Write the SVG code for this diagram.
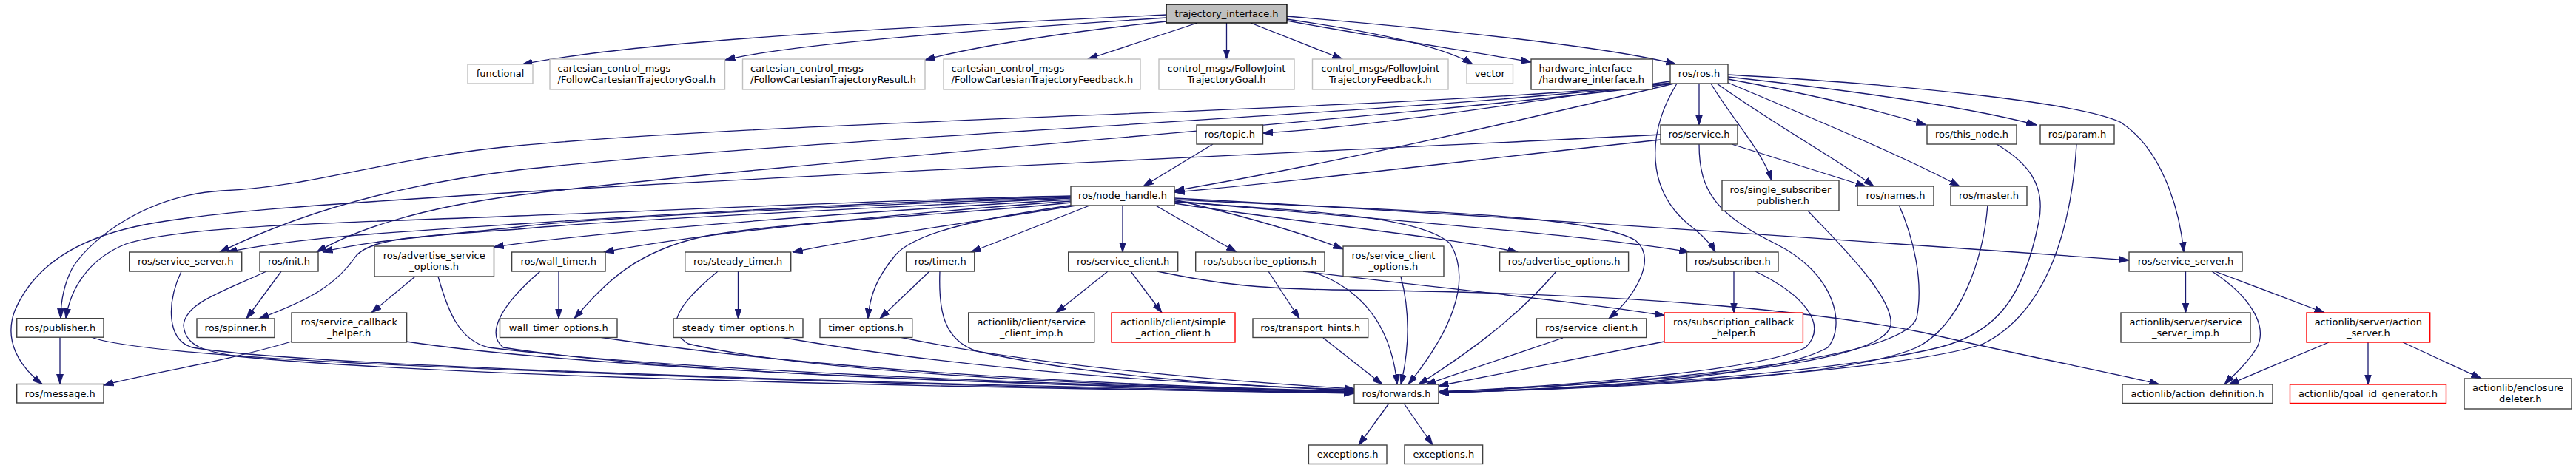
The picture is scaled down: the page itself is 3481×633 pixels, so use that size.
<svg xmlns="http://www.w3.org/2000/svg" width="3481" height="633" viewBox="0 0 3481 633">
<style>
.nd rect{fill:#ffffff;stroke:#404040;stroke-width:1.4}
.nd.g rect{stroke:#bfbfbf}
.nd.r rect{stroke:#ff0000}
.nd.root rect{fill:#bfbfbf;stroke:#000000}
.nd text{font-family:"DejaVu Sans","Liberation Sans",sans-serif;font-size:13px;fill:#000000;text-anchor:middle}
.nd text.l{text-anchor:start}
#edges path{fill:none;stroke:#191970;stroke-width:1.3;marker-end:url(#a)}
</style>
<defs>
<marker id="a" markerUnits="userSpaceOnUse" markerWidth="14" markerHeight="10" viewBox="0 0 14 10" refX="13.5" refY="5" orient="auto">
<path d="M0,0.6 L13.5,5 L0,9.4 z" fill="#191970" stroke="#191970" stroke-width="1"/>
</marker>
</defs>
<rect x="0" y="0" width="3481" height="633" fill="#ffffff"/>
<g id="edges">
<path d="M1576,20 C1300,33 880,52 706,87"/>
<path d="M1576,24 C1330,40 1080,58 980,81"/>
<path d="M1576,29 C1450,42 1320,62 1250,81"/>
<path d="M1618,31 L1470,80"/>
<path d="M1657.5,31 L1657.5,80"/>
<path d="M1690,31 L1814,80"/>
<path d="M1739,26 C1850,42 1950,62 1990,87"/>
<path d="M1739,28 C1870,52 1990,70 2069,84"/>
<path d="M1739,22 C1950,40 2170,62 2265,87"/>
<path d="M2260,112 C1900,150 1100,160 700,197 C520,214 430,252 300,258 C200,264 125,320 98,362 C86,385 82,410 82,430.7"/>
<path d="M2260,112 C1900,155 1100,185 700,230 C520,252 390,295 297,341"/>
<path d="M2261,113 C1900,160 1100,215 700,264 C570,281 480,310 428,341"/>
<path d="M2257,110 C2050,140 1850,172 1706.5,180"/>
<path d="M2262,113 C2050,165 1780,225 1587,258"/>
<path d="M2296,113 L2296,169"/>
<path d="M2312,113 C2340,160 2382,205 2394,244"/>
<path d="M2320,113 C2400,170 2490,220 2532,252"/>
<path d="M2333,111 C2450,160 2580,215 2648,252"/>
<path d="M2335,107 C2450,128 2540,150 2603,169"/>
<path d="M2335,104 C2500,122 2660,145 2752,169"/>
<path d="M2335,101 C2600,116 2810,140 2865,165 C2920,200 2945,280 2951,341"/>
<path d="M2266,113 C2225,180 2222,260 2290,310 C2302,320 2312,330 2318,341"/>
<path d="M2244,189 C2000,215 1760,245 1587,260"/>
<path d="M2244,182 C1900,200 1100,235 650,263 C450,276 300,285 200,303 C120,318 50,350 20,420 C5,460 25,495 57,519.5"/>
<path d="M2340,195 L2521,252"/>
<path d="M2296,195 C2296,260 2320,290 2400,330 C2480,370 2495,440 2470,470 C2400,510 2150,525 1944,531"/>
<path d="M1639,195 L1545,252"/>
<path d="M2443,285 C2475,320 2560,400 2555,440 C2545,490 2300,515 1944,530"/>
<path d="M2566,277 C2585,320 2600,380 2590,430 C2570,490 2200,520 1944,530"/>
<path d="M2686,277 C2680,350 2650,440 2590,470 C2500,510 2200,525 1944,531"/>
<path d="M2698,195 C2740,220 2765,250 2755,300 C2735,400 2700,450 2620,470 C2500,500 2200,525 1944,531"/>
<path d="M2806,195 C2800,300 2770,420 2680,465 C2580,500 2200,525 1944,531"/>
<path d="M1447,265 C1200,270 900,285 700,292 C450,302 250,305 170,330 C120,350 95,390 89,430.7"/>
<path d="M1447,266 C1200,272 900,290 700,303 C500,316 400,322 307,341"/>
<path d="M1447,267 C1100,280 800,295 700,307 C580,320 500,325 436,341"/>
<path d="M1447,268 C1100,285 800,300 700,310 C560,320 505,322 482,345 C455,385 420,405 350,431"/>
<path d="M1447,270 C1100,290 800,315 667,334"/>
<path d="M1447,272 C1200,290 950,315 816,341"/>
<path d="M1447,274 C1300,290 1050,300 950,320 C860,340 820,380 776,431"/>
<path d="M1460,277 C1350,295 1200,315 1071,341"/>
<path d="M1475,277 L1312,341"/>
<path d="M1452,277 C1350,292 1240,310 1210,345 C1185,375 1175,400 1173,431"/>
<path d="M1517,277 L1517,341"/>
<path d="M1560,277 L1671,341"/>
<path d="M1587,270 C1680,292 1760,315 1815,337"/>
<path d="M1587,273 C1750,285 1920,290 1960,330 C1990,380 1960,450 1903,520"/>
<path d="M1587,275 C1750,300 1950,320 2051,341"/>
<path d="M1587,272 C1900,300 2150,318 2283,341"/>
<path d="M1587,270 C1900,285 2150,290 2210,325 C2240,350 2210,400 2174,431"/>
<path d="M1587,268 C2000,290 2500,325 2877,352"/>
<path d="M245,367 C225,410 225,460 260,470 C400,495 1200,520 1830,531"/>
<path d="M380,367 L333,431"/>
<path d="M360,367 C300,395 250,410 248,440 C250,470 280,475 320,482 C600,510 1300,525 1830,531"/>
<path d="M561,374 L502,423"/>
<path d="M592,374 C605,420 620,460 660,470 C900,500 1400,520 1830,530"/>
<path d="M755,367 L755,431"/>
<path d="M730,367 C680,410 655,450 680,470 C900,505 1400,522 1830,530"/>
<path d="M394,462 C300,490 200,505 140,521"/>
<path d="M549,462 C800,500 1400,522 1830,530"/>
<path d="M81,456 L81,519.5"/>
<path d="M123,456 C160,470 300,482 500,492 C1000,515 1500,527 1830,532"/>
<path d="M810,456 C1100,500 1500,522 1830,529"/>
<path d="M997.5,367 L997.5,431"/>
<path d="M970,367 C930,400 890,440 930,465 C1100,505 1500,522 1830,530"/>
<path d="M1256,367 L1189,431"/>
<path d="M1270,367 C1268,420 1275,460 1320,475 C1450,505 1650,522 1830,528"/>
<path d="M1055,456 C1300,500 1600,520 1830,527"/>
<path d="M1216,456 C1400,495 1650,515 1830,526"/>
<path d="M1497,367 L1427,423"/>
<path d="M1528,367 L1570,423"/>
<path d="M1564,367 C1650,385 1700,390 1800,392 C2100,395 2400,410 2600,450 C2750,485 2860,505 2918,520"/>
<path d="M1714,367 L1756,431"/>
<path d="M1761,367 C1950,390 2150,410 2250,427"/>
<path d="M1772,367 C1840,390 1880,440 1888,520"/>
<path d="M1893,374 C1905,420 1905,470 1893,520"/>
<path d="M2103,367 C2050,430 1980,480 1917,520"/>
<path d="M1788,457 L1868,520"/>
<path d="M2112,457 L1927,520"/>
<path d="M2249,462 L1944,522"/>
<path d="M2343,367 L2343,423"/>
<path d="M2372,367 C2440,400 2470,440 2440,470 C2380,500 2150,520 1944,530"/>
<path d="M1877,545.5 L1836,602"/>
<path d="M1897,545.5 L1936,602"/>
<path d="M2953.5,367 L2953.5,423"/>
<path d="M2989,367 C3040,400 3065,440 3050,470 C3035,495 3015,510 3006,520"/>
<path d="M2993,367 L3141,423"/>
<path d="M3147,463 L3012,520"/>
<path d="M3200,463 L3200,520"/>
<path d="M3247,463 L3353,512"/>
</g>
<g id="n_traj" class="nd root"><rect x="1576" y="6" width="163" height="25"/><text x="1657.5" y="22.8">trajectory_interface.h</text></g>
<g id="n_functional" class="nd g"><rect x="632" y="87" width="88" height="26"/><text x="676" y="104.3">functional</text></g>
<g id="n_cart_goal" class="nd g"><rect x="743" y="80" width="236.5" height="41"/><text class="l" x="753.5" y="97">cartesian_control_msgs</text><text class="l" x="753.5" y="112">/FollowCartesianTrajectoryGoal.h</text></g>
<g id="n_cart_result" class="nd g"><rect x="1003.5" y="80" width="246.5" height="41"/><text class="l" x="1014" y="97">cartesian_control_msgs</text><text class="l" x="1014" y="112">/FollowCartesianTrajectoryResult.h</text></g>
<g id="n_cart_feedback" class="nd g"><rect x="1275" y="80" width="266" height="41"/><text class="l" x="1285.5" y="97">cartesian_control_msgs</text><text class="l" x="1285.5" y="112">/FollowCartesianTrajectoryFeedback.h</text></g>
<g id="n_cm_goal" class="nd g"><rect x="1566" y="80" width="183" height="41"/><text x="1657.5" y="97">control_msgs/FollowJoint</text><text x="1657.5" y="112">TrajectoryGoal.h</text></g>
<g id="n_cm_feedback" class="nd g"><rect x="1773.5" y="80" width="183.5" height="41"/><text x="1865.25" y="97">control_msgs/FollowJoint</text><text x="1865.25" y="112">TrajectoryFeedback.h</text></g>
<g id="n_vector" class="nd g"><rect x="1982" y="87" width="62.5" height="26"/><text x="2013.25" y="104.3">vector</text></g>
<g id="n_hw" class="nd"><rect x="2069" y="80" width="164" height="41"/><text class="l" x="2079.5" y="97">hardware_interface</text><text class="l" x="2079.5" y="112">/hardware_interface.h</text></g>
<g id="n_ros" class="nd"><rect x="2257" y="87" width="78" height="26"/><text x="2296" y="104.3">ros/ros.h</text></g>
<g id="n_topic" class="nd"><rect x="1617" y="169" width="89.5" height="26"/><text x="1661.75" y="186.3">ros/topic.h</text></g>
<g id="n_service" class="nd"><rect x="2244" y="169" width="104" height="26"/><text x="2296" y="186.3">ros/service.h</text></g>
<g id="n_this_node" class="nd"><rect x="2604" y="169" width="121" height="26"/><text x="2664.5" y="186.3">ros/this_node.h</text></g>
<g id="n_param" class="nd"><rect x="2757" y="169" width="100" height="26"/><text x="2807" y="186.3">ros/param.h</text></g>
<g id="n_node_handle" class="nd"><rect x="1447" y="252" width="140" height="26"/><text x="1517" y="269.3">ros/node_handle.h</text></g>
<g id="n_ssp" class="nd"><rect x="2327" y="244" width="158" height="41"/><text x="2406" y="261">ros/single_subscriber</text><text x="2406" y="276">_publisher.h</text></g>
<g id="n_names" class="nd"><rect x="2510" y="252" width="103" height="26"/><text x="2561.5" y="269.3">ros/names.h</text></g>
<g id="n_master" class="nd"><rect x="2636" y="252" width="103" height="26"/><text x="2687.5" y="269.3">ros/master.h</text></g>
<g id="n_ss_l" class="nd"><rect x="174.7" y="341" width="152" height="26"/><text x="250.7" y="358.3">ros/service_server.h</text></g>
<g id="n_init" class="nd"><rect x="351" y="341" width="79" height="26"/><text x="390.5" y="358.3">ros/init.h</text></g>
<g id="n_aso" class="nd"><rect x="506" y="333" width="161.5" height="41"/><text x="586.75" y="350">ros/advertise_service</text><text x="586.75" y="365">_options.h</text></g>
<g id="n_wall_timer" class="nd"><rect x="691.6" y="341" width="126.4" height="26"/><text x="754.8" y="358.3">ros/wall_timer.h</text></g>
<g id="n_steady_timer" class="nd"><rect x="925.7" y="341" width="143" height="26"/><text x="997.2" y="358.3">ros/steady_timer.h</text></g>
<g id="n_timer" class="nd"><rect x="1224.6" y="341" width="92.2" height="26"/><text x="1270.7" y="358.3">ros/timer.h</text></g>
<g id="n_sc_u" class="nd"><rect x="1443.7" y="341" width="148" height="26"/><text x="1517.7" y="358.3">ros/service_client.h</text></g>
<g id="n_subopt" class="nd"><rect x="1615.7" y="341" width="174.3" height="26"/><text x="1702.85" y="358.3">ros/subscribe_options.h</text></g>
<g id="n_sco" class="nd"><rect x="1815" y="333" width="136" height="41"/><text x="1883" y="350">ros/service_client</text><text x="1883" y="365">_options.h</text></g>
<g id="n_adopt" class="nd"><rect x="2026.6" y="341" width="174" height="26"/><text x="2113.6" y="358.3">ros/advertise_options.h</text></g>
<g id="n_subscriber" class="nd"><rect x="2279.5" y="341" width="123.5" height="26"/><text x="2341.25" y="358.3">ros/subscriber.h</text></g>
<g id="n_ss_r" class="nd"><rect x="2877" y="341" width="153" height="26"/><text x="2953.5" y="358.3">ros/service_server.h</text></g>
<g id="n_publisher" class="nd"><rect x="22.7" y="430.7" width="117.3" height="25.5"/><text x="81.35" y="447.7">ros/publisher.h</text></g>
<g id="n_spinner" class="nd"><rect x="266" y="431" width="105" height="25.5"/><text x="318.5" y="447.8">ros/spinner.h</text></g>
<g id="n_sch" class="nd"><rect x="394" y="423" width="155.6" height="40"/><text x="471.8" y="439.5">ros/service_callback</text><text x="471.8" y="454.5">_helper.h</text></g>
<g id="n_wto" class="nd"><rect x="675.5" y="431" width="158.5" height="25.5"/><text x="754.75" y="447.8">wall_timer_options.h</text></g>
<g id="n_sto" class="nd"><rect x="910" y="431" width="175" height="25.5"/><text x="997.5" y="447.8">steady_timer_options.h</text></g>
<g id="n_to" class="nd"><rect x="1108" y="431" width="124.7" height="25.5"/><text x="1170.35" y="447.8">timer_options.h</text></g>
<g id="n_sci" class="nd"><rect x="1308.7" y="423" width="170" height="40"/><text x="1393.7" y="439.5">actionlib/client/service</text><text x="1393.7" y="454.5">_client_imp.h</text></g>
<g id="n_sac" class="nd r"><rect x="1502" y="423" width="167" height="40"/><text x="1585.5" y="439.5">actionlib/client/simple</text><text x="1585.5" y="454.5">_action_client.h</text></g>
<g id="n_th" class="nd"><rect x="1693" y="431" width="155.7" height="25.5"/><text x="1770.85" y="447.8">ros/transport_hints.h</text></g>
<g id="n_sc_l" class="nd"><rect x="2076.4" y="431" width="148.4" height="25.5"/><text x="2150.6" y="447.8">ros/service_client.h</text></g>
<g id="n_subcb" class="nd r"><rect x="2249" y="423" width="187.4" height="40"/><text x="2342.7" y="439.5">ros/subscription_callback</text><text x="2342.7" y="454.5">_helper.h</text></g>
<g id="n_ssi" class="nd"><rect x="2866" y="423" width="175" height="40"/><text x="2953.5" y="439.5">actionlib/server/service</text><text x="2953.5" y="454.5">_server_imp.h</text></g>
<g id="n_as" class="nd r"><rect x="3117" y="423" width="166.7" height="40"/><text x="3200.35" y="439.5">actionlib/server/action</text><text x="3200.35" y="454.5">_server.h</text></g>
<g id="n_message" class="nd"><rect x="22.7" y="519.5" width="117.3" height="25.5"/><text x="81.35" y="536.5">ros/message.h</text></g>
<g id="n_forwards" class="nd"><rect x="1830" y="520" width="114" height="25.5"/><text x="1887" y="537">ros/forwards.h</text></g>
<g id="n_ad" class="nd"><rect x="2868" y="520" width="203" height="25.5"/><text x="2969.5" y="537">actionlib/action_definition.h</text></g>
<g id="n_gid" class="nd r"><rect x="3094.5" y="520" width="211" height="25.5"/><text x="3200" y="537">actionlib/goal_id_generator.h</text></g>
<g id="n_ed" class="nd"><rect x="3330" y="512" width="145" height="41"/><text x="3402.5" y="529">actionlib/enclosure</text><text x="3402.5" y="544">_deleter.h</text></g>
<g id="n_ex1" class="nd"><rect x="1768.4" y="602" width="105.6" height="25.5"/><text x="1821.2" y="619">exceptions.h</text></g>
<g id="n_ex2" class="nd"><rect x="1898" y="602" width="105.6" height="25.5"/><text x="1950.8" y="619">exceptions.h</text></g>
</svg>
